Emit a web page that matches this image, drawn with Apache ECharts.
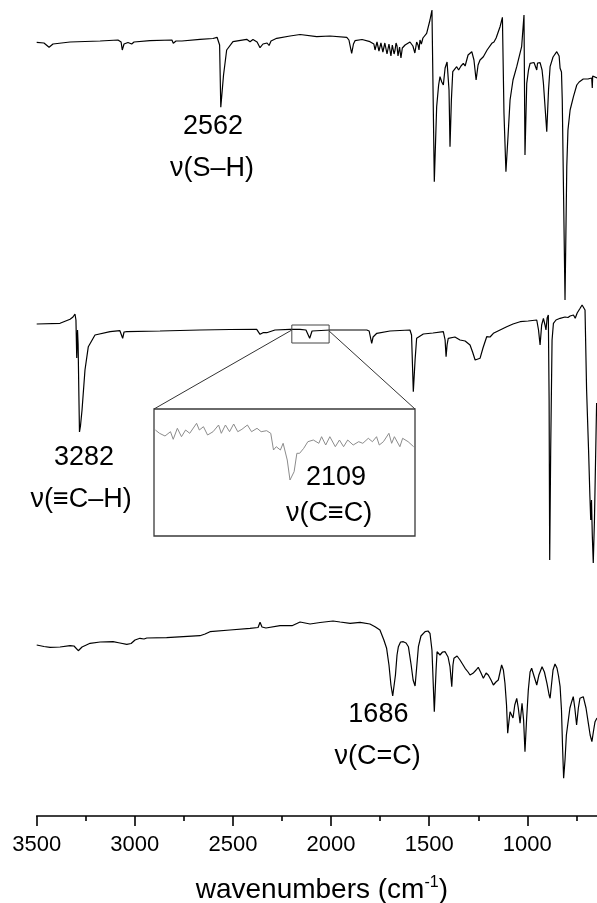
<!DOCTYPE html>
<html><head><meta charset="utf-8">
<script src="https://cdn.jsdelivr.net/npm/echarts/dist/echarts.min.js"></script>
<style>html,body{margin:0;padding:0;overflow:hidden;width:100%;height:100%;background:#fff}#c{position:fixed;left:0;top:0;width:100vw;height:100vh}</style>
</head><body><div id="c"></div>
<script>
// x: wavenumber (cm-1); y: offset intensity (arbitrary units)
const xTickValues = [3500, 3000, 2500, 2000, 1500, 1000];
const xMinorTickValues = [3250, 2750, 2250, 1750, 1250, 750];

const topSpectrum = [[3500,773.7],[3463,773],[3437,768.7],[3417,772],[3330,774],[3177,775],[3086,776],[3070,774],[3064,766],[3055,772],[3035,773.5],[3016,772],[3004,774],[2923,775.3],[2811,776],[2804,772.7],[2790,775],[2780,773.3],[2760,775],[2668,776.7],[2602,777.5],[2581,778.7],[2568,771],[2562,708.7],[2548,741],[2532,766],[2500,774.3],[2430,776.7],[2413,774.3],[2398,776.5],[2377,774],[2362,768.3],[2347,772],[2337,770],[2326,773],[2316,770.5],[2306,775],[2277,777.7],[2209,780],[2158,781.5],[2073,779.3],[2005,780],[1920,778.7],[1909,776],[1895,762.7],[1886,772],[1878,775.3],[1842,776.5],[1802,774.3],[1782,772],[1776,766],[1771,768],[1766,774],[1761,773],[1756,765],[1751,767],[1746,773],[1741,771],[1736,764],[1731,766],[1726,773],[1720,772],[1715,762],[1710,764],[1705,772],[1700,770],[1695,760],[1691,761],[1688,771],[1685,769],[1679,762],[1674,766],[1669,773],[1664,770],[1659,760],[1654,759],[1651,769],[1649,767],[1644,758],[1640,756],[1637,768],[1634,766],[1623,771],[1598,774],[1583,770],[1573,763],[1564,774],[1557,771],[1552,766],[1547,776],[1540,772],[1532,778],[1513,782.7],[1496,796],[1486,806],[1474,634.3],[1462,709.3],[1452,731],[1445,739.3],[1436,734],[1428,731],[1419,748],[1409,754],[1403,756],[1399,726],[1394,669.3],[1387,716],[1380,744.3],[1360,749.3],[1350,746],[1343,744.3],[1338,750],[1326,752.7],[1317,750],[1302,761],[1283,764.3],[1272,756],[1261,736],[1251,751],[1241,756],[1232,754],[1224,759.3],[1205,766],[1181,772.7],[1170,774],[1159,778],[1139,789.3],[1127,798.7],[1119,702.7],[1109,644.3],[1098,681],[1088,716],[1073,736],[1054,749.3],[1029,769.3],[1017,801],[1012,661],[1003,732.7],[994,746],[986,752.7],[966,753.5],[956,753],[952,746],[948,753],[935,753.3],[925,746],[918,732.7],[901,684.3],[892,726],[884,749.3],[869,759],[850,764.3],[838,760],[833,747.7],[826,744],[822,716],[815,616],[808,516],[799,649.3],[793,686],[782,706],[765,719.3],[748,731],[736,734],[715,737],[691,737],[672,738],[669,728],[667,740],[645,738]];

const midSpectrum = [[3500,492],[3381,492.7],[3330,496.7],[3315,499],[3305,502],[3300,496],[3296,458],[3292,486],[3289,472],[3285,420],[3282,384],[3277,390],[3269,406],[3254,446],[3237,469.3],[3203,481],[3126,484.3],[3076,485.3],[3068,484],[3062,477.7],[3055,484],[3041,484.3],[2872,485],[2668,486],[2515,486.5],[2379,486.7],[2362,481.7],[2347,483.3],[2328,483.3],[2286,486],[2209,486.7],[2158,486.7],[2128,486],[2109,477.7],[2097,485],[2005,486],[1818,486],[1806,485],[1793,472.7],[1786,479],[1767,482.7],[1700,485],[1598,486],[1590,481],[1581,424.3],[1572,456],[1564,477.7],[1530,482],[1481,483],[1428,484.3],[1419,476],[1414,459.3],[1409,471],[1403,477.7],[1369,479],[1343,476],[1317,475],[1292,471],[1279,464],[1266,456],[1256,455],[1241,457.7],[1226,468],[1207,479.3],[1190,479],[1173,482.7],[1139,486],[1105,489.3],[1073,492],[1037,494.3],[996,495],[952,496],[943,486],[935,471],[927,491],[918,497.7],[910,491],[905,486],[899,498],[893,501],[889,416],[886,256],[881,366],[874,476],[867,492.7],[854,496],[833,497.7],[808,499],[793,498.5],[782,500],[772,498],[765,501],[756,497.7],[746,503],[731,507.7],[721,511],[714,512],[706,506],[698,426],[688,366],[681,319],[677,296],[673,316],[669,281],[664,253],[658,296],[647,413]];

const botSpectrum = [[3500,171],[3463,169.5],[3432,168.7],[3381,169],[3330,170.3],[3310,170],[3288,165.3],[3269,169],[3228,172.7],[3177,174],[3111,174.3],[3076,173],[3041,171.7],[3019,172.5],[2999,176],[2974,177.7],[2953,177],[2939,178],[2838,178.3],[2668,180.3],[2642,182],[2617,184.3],[2515,186],[2413,187.7],[2372,188.5],[2362,193.7],[2352,189],[2332,188],[2260,190.3],[2199,190.3],[2192,191],[2158,194],[2107,192],[2056,193.5],[1990,195],[1954,194],[1903,192.7],[1852,193.7],[1802,192],[1776,189.3],[1751,186],[1731,176],[1717,167.7],[1705,151],[1695,131],[1686,120],[1672,141],[1664,161],[1657,169.3],[1646,174],[1632,174.3],[1618,173],[1606,169.3],[1592,151],[1582,136],[1572,130],[1565,146],[1555,169.3],[1542,180],[1521,184.3],[1506,185],[1496,182.7],[1486,166],[1474,104.3],[1465,146],[1460,164.3],[1445,161],[1432,164],[1419,164.3],[1404,159],[1394,149.3],[1385,129.3],[1379,151],[1374,157.7],[1358,160],[1343,156],[1333,158],[1317,147.7],[1302,144],[1292,141],[1277,142.7],[1261,146],[1250,148.7],[1236,143],[1224,137.7],[1210,143],[1199,141],[1185,136],[1173,131],[1160,134],[1148,136],[1131,151],[1122,146],[1114,132.7],[1106,111],[1100,82.7],[1094,94],[1088,104.3],[1081,104],[1073,98],[1064,111],[1054,117.7],[1046,108],[1037,92.7],[1027,112.7],[1019,96],[1012,64.3],[1004,96],[995,126],[986,144],[978,147.7],[966,140],[952,131],[941,141],[925,149.3],[913,144],[900,132.7],[889,121],[884,117.7],[877,131],[869,146],[859,152],[849,148],[841,140],[833,129.3],[826,106],[820,66],[815,37.7],[808,56],[801,81],[791,96],[783,108],[774,114.3],[766,119.3],[758,108],[749,91],[740,108],[732,117.7],[723,116],[715,119.3],[701,108],[689,92.7],[680,81],[671,74.3],[662,86],[655,94.3],[645,98]];

// magnified 2200-2010 cm-1 region of the middle spectrum (inset units)
const insetSpectrum = [[2199,106],[2196,102.7],[2192,100],[2188,104.3],[2186,96.7],[2183,107.7],[2180,99.3],[2177,106],[2174,102.7],[2169,112.7],[2167,106],[2164,109.3],[2161,101],[2157,104.3],[2153,111],[2151,102.7],[2148,111],[2145,104.3],[2142,112],[2139,104.3],[2136,106.7],[2132,111],[2129,104.3],[2125,107.7],[2122,104.3],[2118,105.3],[2115,102.7],[2113,86],[2111,89.3],[2108,86],[2106,92.7],[2103,76],[2101,56],[2098,64.3],[2096,82.7],[2094,82.7],[2091,87.7],[2088,94.3],[2084,96],[2080,92.7],[2078,99.3],[2075,91],[2072,99.3],[2068,89.3],[2065,96],[2062,89.3],[2059,96],[2055,91],[2051,94.3],[2048,92.7],[2044,97.7],[2041,94.3],[2038,99.3],[2036,91],[2033,94.3],[2029,102.7],[2027,92.7],[2025,99.3],[2021,89.3],[2019,97.7],[2015,94.3],[2011,89.3]];

const peakLabels = ['2562', 'ν(S–H)', '3282', 'ν(≡C–H)', '2109', 'ν(C≡C)', '1686', 'ν(C=C)'];
const labelAnchors = [[2602,689],[2607,647],[3259,358.5],[3274,316],[1975,338.5],[2010,302],[1759,101],[1763,59]];
const zoomWindow = {from: 2200, to: 2010, low: 473, high: 491};

const FONT = '"Liberation Sans", Arial, Helvetica, sans-serif';
const chart = echarts.init(document.getElementById('c'), null, {renderer: 'canvas'});
const lineSeries = (data, xi, yi, color, w) => ({
  type: 'line', data, xAxisIndex: xi, yAxisIndex: yi, showSymbol: false, symbol: 'none',
  lineStyle: {color, width: w}, animation: false, silent: true, clip: true
});
chart.setOption({
  animation: false,
  backgroundColor: '#fff',
  grid: [
    {left: 36.7, top: 0, right: 0, height: 816, containLabel: false, outerBoundsMode: 'none'},
    {left: 154, top: 409, width: 261, height: 127, show: true, borderColor: '#3a3a3a', borderWidth: 1.3,
     backgroundColor: 'transparent', containLabel: false, outerBoundsMode: 'none'}
  ],
  xAxis: [
    {type: 'value', gridIndex: 0, min: 645, max: 3500, inverse: true, position: 'bottom',
     axisLine: {show: true, onZero: false, lineStyle: {color: '#000', width: 1.6}},
     axisTick: {show: true, length: 10, customValues: xTickValues, lineStyle: {color: '#000', width: 1.6}},
     splitLine: {show: false},
     axisLabel: {margin: 18, fontSize: 22, fontFamily: FONT, color: '#000', customValues: xTickValues,
       formatter: v => String(v), showMinLabel: true, showMaxLabel: true},
     name: '{a|wavenumbers (cm}{s|-1}{a|)}', nameLocation: 'middle', nameGap: 59,
     nameTextStyle: {padding: [0, 0, 0, 10], rich: {
       a: {fontSize: 28, fontFamily: FONT, color: '#000', lineHeight: 30},
       s: {fontSize: 16, fontFamily: FONT, color: '#000', verticalAlign: 'top', lineHeight: 16}
     }}},
    {type: 'value', gridIndex: 0, min: 645, max: 3500, inverse: true, position: 'bottom', offset: 0,
     axisLine: {show: false, onZero: false},
     axisTick: {show: true, length: 5, customValues: xMinorTickValues, lineStyle: {color: '#000', width: 1.6}},
     axisLabel: {show: false}, splitLine: {show: false}},
    {type: 'value', gridIndex: 1, min: zoomWindow.to, max: zoomWindow.from, inverse: true, show: false}
  ],
  yAxis: [
    {type: 'value', gridIndex: 0, min: 0, max: 816, show: false},
    {type: 'value', gridIndex: 1, min: 0, max: 127, show: false}
  ],
  series: [
    lineSeries(topSpectrum, 0, 0, '#000', 1.2),
    lineSeries(midSpectrum, 0, 0, '#000', 1.2),
    lineSeries(botSpectrum, 0, 0, '#000', 1.2),
    lineSeries(insetSpectrum, 2, 1, '#8c8c8c', 1),
    {type: 'scatter', xAxisIndex: 0, yAxisIndex: 0, z: 20, silent: true,
     data: labelAnchors.map((a, i) => [a[0], a[1], peakLabels[i]]),
     symbolSize: 1, itemStyle: {color: 'rgba(0,0,0,0)', opacity: 1},
     label: {show: true, position: 'inside', formatter: p => p.data[2], fontSize: 27, fontFamily: FONT,
             color: '#000', opacity: 1, textBorderWidth: 0}}
  ]
});

const p0 = v => chart.convertToPixel({xAxisIndex: 0, yAxisIndex: 0}, v);
const p1 = v => chart.convertToPixel({xAxisIndex: 2, yAxisIndex: 1}, v);
const rA = p0([zoomWindow.from, zoomWindow.high]);
const rB = p0([zoomWindow.to, zoomWindow.low]);
const cL = p0([zoomWindow.from, 486]);
const cR = p0([zoomWindow.to, 485]);
const iL = p1([zoomWindow.from, 127]);
const iR = p1([zoomWindow.to, 127]);
chart.setOption({graphic: [
  {type: 'rect', shape: {x: rA[0], y: rA[1], width: rB[0] - rA[0], height: rB[1] - rA[1]},
   style: {fill: 'none', stroke: '#444', lineWidth: 1}, z: 10},
  {type: 'line', shape: {x1: cL[0], y1: cL[1], x2: iL[0], y2: iL[1]}, style: {stroke: '#333', lineWidth: 1}, z: 10},
  {type: 'line', shape: {x1: cR[0], y1: cR[1], x2: iR[0], y2: iR[1]}, style: {stroke: '#333', lineWidth: 1}, z: 10}
]});
</script></body></html>
